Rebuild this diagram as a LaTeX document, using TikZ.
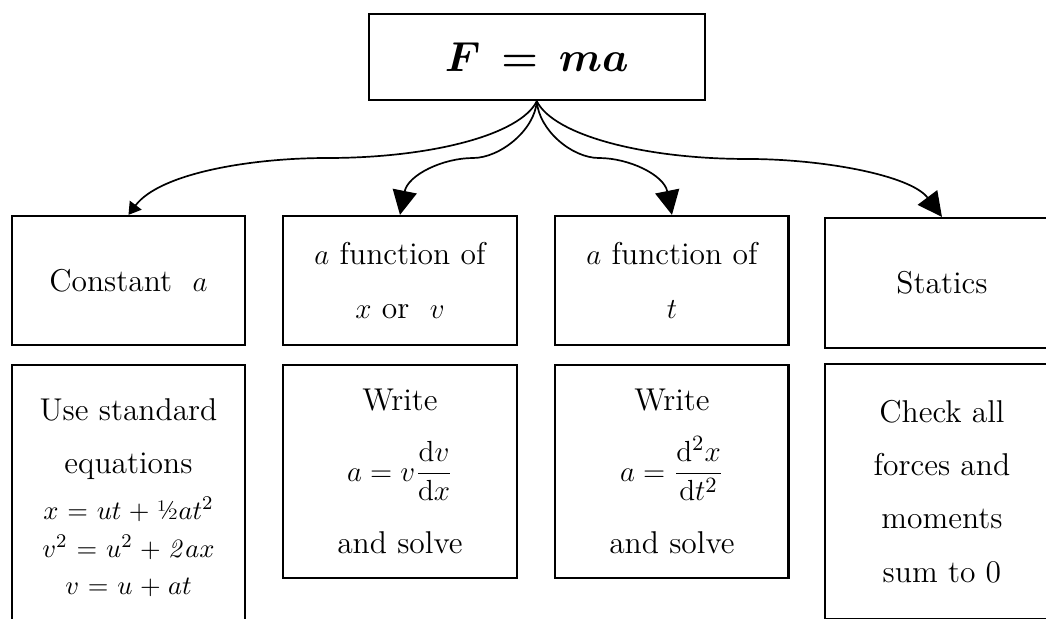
\documentclass[tikz,border=0pt]{standalone}
\usepackage{amsmath}
\usepackage{amssymb}
\usepackage{bm}
\usepackage{tikz}
\usetikzlibrary{arrows.meta,positioning}
\tikzset{
	lawbox/.style={
		draw,
		line width=0.9pt,
		align=center,
		minimum width=3.38cm,
		inner sep=2pt,
		font=\fontsize{13}{22}\selectfont
	},
	conn/.style={
		-{Triangle[length=10pt,width=10pt]},
		line width=0.7pt
	},
	connsmall/.style={
		-{Triangle[length=5pt,width=6pt]},
		line width=0.7pt
	}
}

\begin{document}
\begin{tikzpicture}
	
	\useasboundingbox (0,0) rectangle (15.16,8.971);
	\clip (0,0) rectangle (15.16,8.971);
	
	% --- NEWTON'S LAW ---
	\node[lawbox, minimum width=4.87cm, minimum height=1.25cm, font=\LARGE] (fma) at (7.78,8.145)
	{$\bm{F}\mkern4mu\bm{=}\mkern4mu\bm{ma}$};
	
	% --- TYPE OF ACCELERATION ---
	\node[lawbox, minimum height=1.87cm] (cA) at (1.862,4.906) {Constant\ \ $a$};
	\node[lawbox, minimum height=1.87cm] (cB) at (5.797,4.906) {$a$ function of\\ $x$ or\ \ $v$};
	\node[lawbox, minimum height=1.87cm] (cC) at (9.739,4.906) {$a$ function of\\ $t$};
	\node[lawbox, minimum height=1.884cm] (cD) at (13.652,4.87) {Statics};
	
	% --- METHOD ---
	\node[lawbox, minimum height=3.84cm, below=0.26cm of cA] (sA)
	{Use standard\\ equations\\[-3pt]
		\fontsize{11}{15}\selectfont $x \mkern1mu=\mkern1mu ut \mkern1mu+\mkern1mu \mbox{\textonehalf}at^2$\\[-6.5pt]
		\fontsize{11}{15}\selectfont $v^2 \mkern1mu=\mkern1mu u^2 \mkern1mu+\mkern1mu \mathit{2}ax$\\[-6.5pt]
		\fontsize{11}{15}\selectfont $v \mkern1mu=\mkern1mu u \mkern1mu+\mkern1mu at$};
	\node[lawbox, minimum height=3.087cm, below=0.26cm of cB] (sB)
	{Write\\[7pt] $a = v\dfrac{\mathrm{d}v}{\mathrm{d}x}$\\[8pt] and solve};
	\node[lawbox, minimum height=3.087cm, below=0.26cm of cC] (sC)
	{Write\\[7pt] $a = \dfrac{\mathrm{d}^2x}{\mathrm{d}t^2}$\\[8pt] and solve};
	\node[lawbox, minimum height=3.696cm, below=0.2cm of cD] (sD)
	{Check all\\ forces and\\ moments\\ sum to 0};
	
	% --- BENDS OF THE CONNECTORS ---
	\coordinate (bA) at (4.739,6.681);
	\coordinate (bB) at (6.855,6.681);
	\coordinate (bC) at (8.68,6.681);
	\coordinate (bD) at (10.826,6.667);
	
	% --- CONNECTIONS ---
	\draw[connsmall] (fma.south) .. controls +(-0.246,-0.493) and +(1.493,0) .. (bA)
	.. controls +(-1.116,0) and +(0.45,0.6) .. (cA.north);
	\draw[conn] (fma.south) .. controls +(-0.03,-0.42) and +(0.391,0) .. (bB)
	.. controls +(-0.435,0) and +(0.116,0.58) .. (cB.north);
	\draw[conn] (fma.south) .. controls +(0.03,-0.42) and +(-0.391,0) .. (bC)
	.. controls +(0.435,0) and +(-0.116,0.58) .. (cC.north);
	\draw[conn] (fma.south) .. controls +(0.246,-0.493) and +(-1.493,0) .. (bD)
	.. controls +(1.116,0) and +(-0.45,0.6) .. (cD.north);
	
\end{tikzpicture}
\end{document}
